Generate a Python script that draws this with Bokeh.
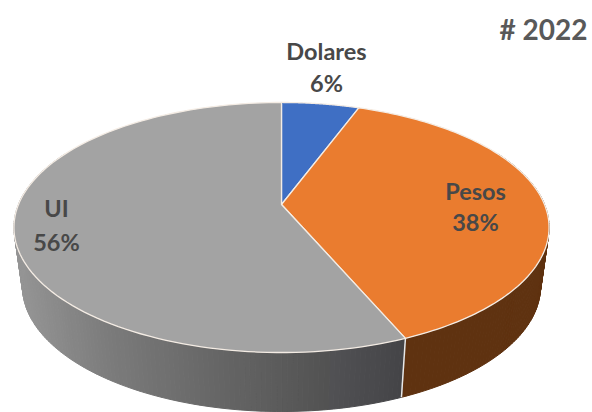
import numpy as np
from bokeh.embed import file_html
from bokeh.models import Range1d
from bokeh.plotting import figure
from bokeh.resources import INLINE

categories = ["Dolares", "Pesos", "UI"]
shares = [5.6, 38.0, 56.4]
shown_pct = ["6%", "38%", "56%"]
year_label = "# 2022"

TOP_COL = ["#3F6FC4", "#EA7C2F", "#A3A3A3"]
WALL_FLAT = ["#22407a", "#5F3210", None]

# projection of the pie disc
CX, CY, K, AY, BX = 281.0, 204.0, 0.184, 120.8, 263.0
DEPTH, SHRINK = 59.0, 0.968


def top(theta):
    c, s = np.sin(theta), -np.cos(theta)
    d = 1 - K * s
    return CX + BX * c / d, CY + AY * s / d


def bottom(theta):
    x, y = top(theta)
    return CX + (x - CX) * SHRINK, y + DEPTH


p = figure(width=592, height=412, output_backend="svg", toolbar_location=None,
           x_range=Range1d(0, 592), y_range=Range1d(412, 0), min_border=0)
p.axis.visible = False
p.grid.visible = False
p.outline_line_color = None
p.background_fill_color = "white"
p.border_fill_color = "white"

edges = np.concatenate([[0], np.cumsum(shares)]) / np.sum(shares) * 2 * np.pi


def grey(x):
    stops_x = [13, 100, 200, 300, 405]
    stops_v = [150, 125, 105, 88, 68]
    v = int(np.interp(x, stops_x, stops_v))
    return f"#{v:02x}{v:02x}{v + 3 if x > 330 else v:02x}"


# side wall
wx, wy, wc = [], [], []
for i in range(len(shares)):
    n = max(4, int((edges[i + 1] - edges[i]) * 60))
    th = np.linspace(edges[i], edges[i + 1], n + 1)
    for a, b in zip(th[:-1], th[1:]):
        if np.cos((a + b) / 2) > 0.45:
            continue
        ax, ay = top(a)
        bx, by = top(b)
        cx, cy = bottom(b)
        dx, dy = bottom(a)
        wx.append([ax, bx, cx, dx])
        wy.append([ay, by, cy, dy])
        wc.append(WALL_FLAT[i] or grey((ax + bx) / 2))
p.patches(wx, wy, fill_color=wc, line_color=wc, line_width=1)

# white seam at the Pesos / UI boundary
sx0, sy0 = top(edges[2])
sx1, sy1 = bottom(edges[2])
p.segment([sx0], [sy0], [sx1], [sy1], line_color="#e8e8e8", line_width=1.5)

# top of the pie
tx, ty = [], []
for i in range(len(shares)):
    th = np.linspace(edges[i], edges[i + 1], 120)
    xs, ys = top(th)
    tx.append(np.concatenate([[CX], xs]).tolist())
    ty.append(np.concatenate([[CY], ys]).tolist())
p.patches(tx, ty, fill_color=TOP_COL, line_color="#f4ece4", line_width=1.3, line_join="round")

lab_x = [326, 475, 56]
lab_y = [50, 190, 207]
lab_y2 = [82, 221, 241]
p.text(lab_x, lab_y, text=categories, text_font_size="23.5px", text_font_style="bold",
       text_font={"value": "Lato"}, text_color="#484848", text_align="center", text_baseline="middle")
p.text(lab_x, lab_y2, text=shown_pct, text_font_size="23.5px", text_font_style="bold",
       text_font={"value": "Lato"}, text_color="#484848", text_align="center", text_baseline="middle")
p.text([587], [28], text=[year_label], text_font_size="28px", text_font_style="bold",
       text_font={"value": "Lato"}, text_color="#595959", text_align="right", text_baseline="middle")

open("out.html", "w").write(file_html(p, INLINE))
